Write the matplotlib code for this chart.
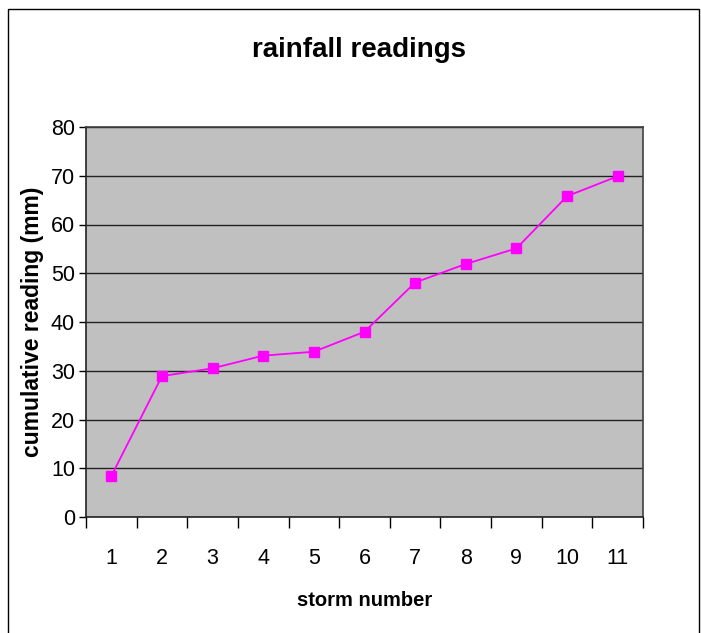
import matplotlib
matplotlib.use('Agg')
import matplotlib.pyplot as plt
from matplotlib.patches import Rectangle

# storm numbers and cumulative readings (mm)
storms = ['1', '2', '3', '4', '5', '6', '7', '8', '9', '10', '11']
readings = [8.4, 28.9, 30.5, 33.1, 33.9, 38.0, 48.1, 51.9, 55.1, 65.8, 69.9]

plt.rcParams['font.family'] = ['Liberation Sans', 'DejaVu Sans']

fig = plt.figure(figsize=(7.01, 6.33), dpi=100)
ax = fig.add_axes([86 / 701, 116 / 633, 557 / 701, 390 / 633])

# outer chart border
fig.patches.append(Rectangle((7.5 / 701, -0.01), 691 / 701, 1.01 - 8.5 / 633,
                             transform=fig.transFigure, fill=False,
                             edgecolor='black', linewidth=1.0))

ax.set_facecolor('#c0c0c0')
x = list(range(len(storms)))
ax.plot(x, readings, color='#ff00ff', linewidth=1.3, marker='s',
        markersize=7.5, markerfacecolor='#ff00ff', markeredgecolor='#ff00ff',
        zorder=3)

ax.set_xlim(-0.5, len(storms) - 0.5)
ax.set_ylim(0, 80)
ax.set_yticks(range(0, 81, 10))
ax.yaxis.grid(True, color='#222222', linewidth=1)
ax.set_axisbelow(True)

# category ticks between labels, labels centred
ax.set_xticks([i - 0.5 for i in range(len(storms) + 1)])
ax.set_xticklabels([])
ax.set_xticks(x, minor=True)
ax.set_xticklabels(storms, minor=True, fontsize=15.5)
ax.tick_params(axis='x', which='major', direction='out', length=8, width=1, color='black')
ax.tick_params(axis='x', which='minor', length=0, pad=22)
ax.tick_params(axis='y', direction='out', length=5, width=1, labelsize=15.5, pad=3)

for s in ax.spines.values():
    s.set_color('#404040')
    s.set_linewidth(1.2)
ax.spines['left'].set_color('#222222')
ax.spines['bottom'].set_color('#222222')

fig.text(359 / 701, 1 - 50 / 633, 'rainfall readings', ha='center', va='center',
         fontsize=20, fontweight='bold')
fig.text(365 / 701, 1 - 600 / 633, 'storm number', ha='center', va='center',
         fontsize=14.5, fontweight='bold')
fig.text(33 / 701, 1 - 322 / 633, 'cumulative reading (mm)', ha='center', va='center',
         rotation=90, fontsize=16.5, fontweight='bold')

fig.savefig('out.png', dpi=100)
